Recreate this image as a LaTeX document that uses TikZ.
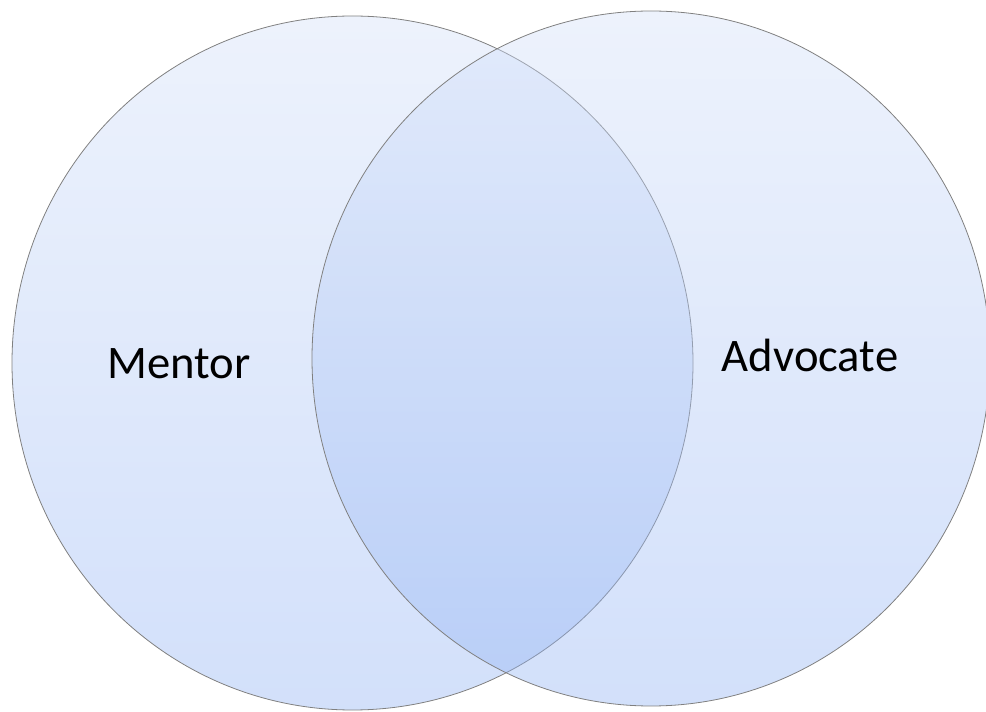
\documentclass[tikz,border=0pt]{standalone}
\usepackage{fontspec}
\setmainfont{Carlito}
\usepackage{xcolor}
\definecolor{venntop}{RGB}{210,223,248}
\definecolor{vennbot}{RGB}{143,177,243}
\definecolor{vennline}{RGB}{128,128,128}

\begin{document}
\begin{tikzpicture}[x=0.75pt,y=0.75pt,
  venn/.style={draw=vennline,line width=0.6pt,top color=venntop,bottom color=vennbot,fill opacity=0.4,draw opacity=1},
  label/.style={anchor=base,font=\fontsize{35}{40}\selectfont,text=black}]
\useasboundingbox (0,0) rectangle (986,711);
\shade[venn] (352.5,348) ellipse [x radius=340.5,y radius=347];
\shade[venn] (651,352.5) ellipse [x radius=339,y radius=347.5];
\node[label] (mentor) at (179,332) {Mentor};
\node[label] (advocate) at (810,339) {Advocate};
\end{tikzpicture}
\end{document}
